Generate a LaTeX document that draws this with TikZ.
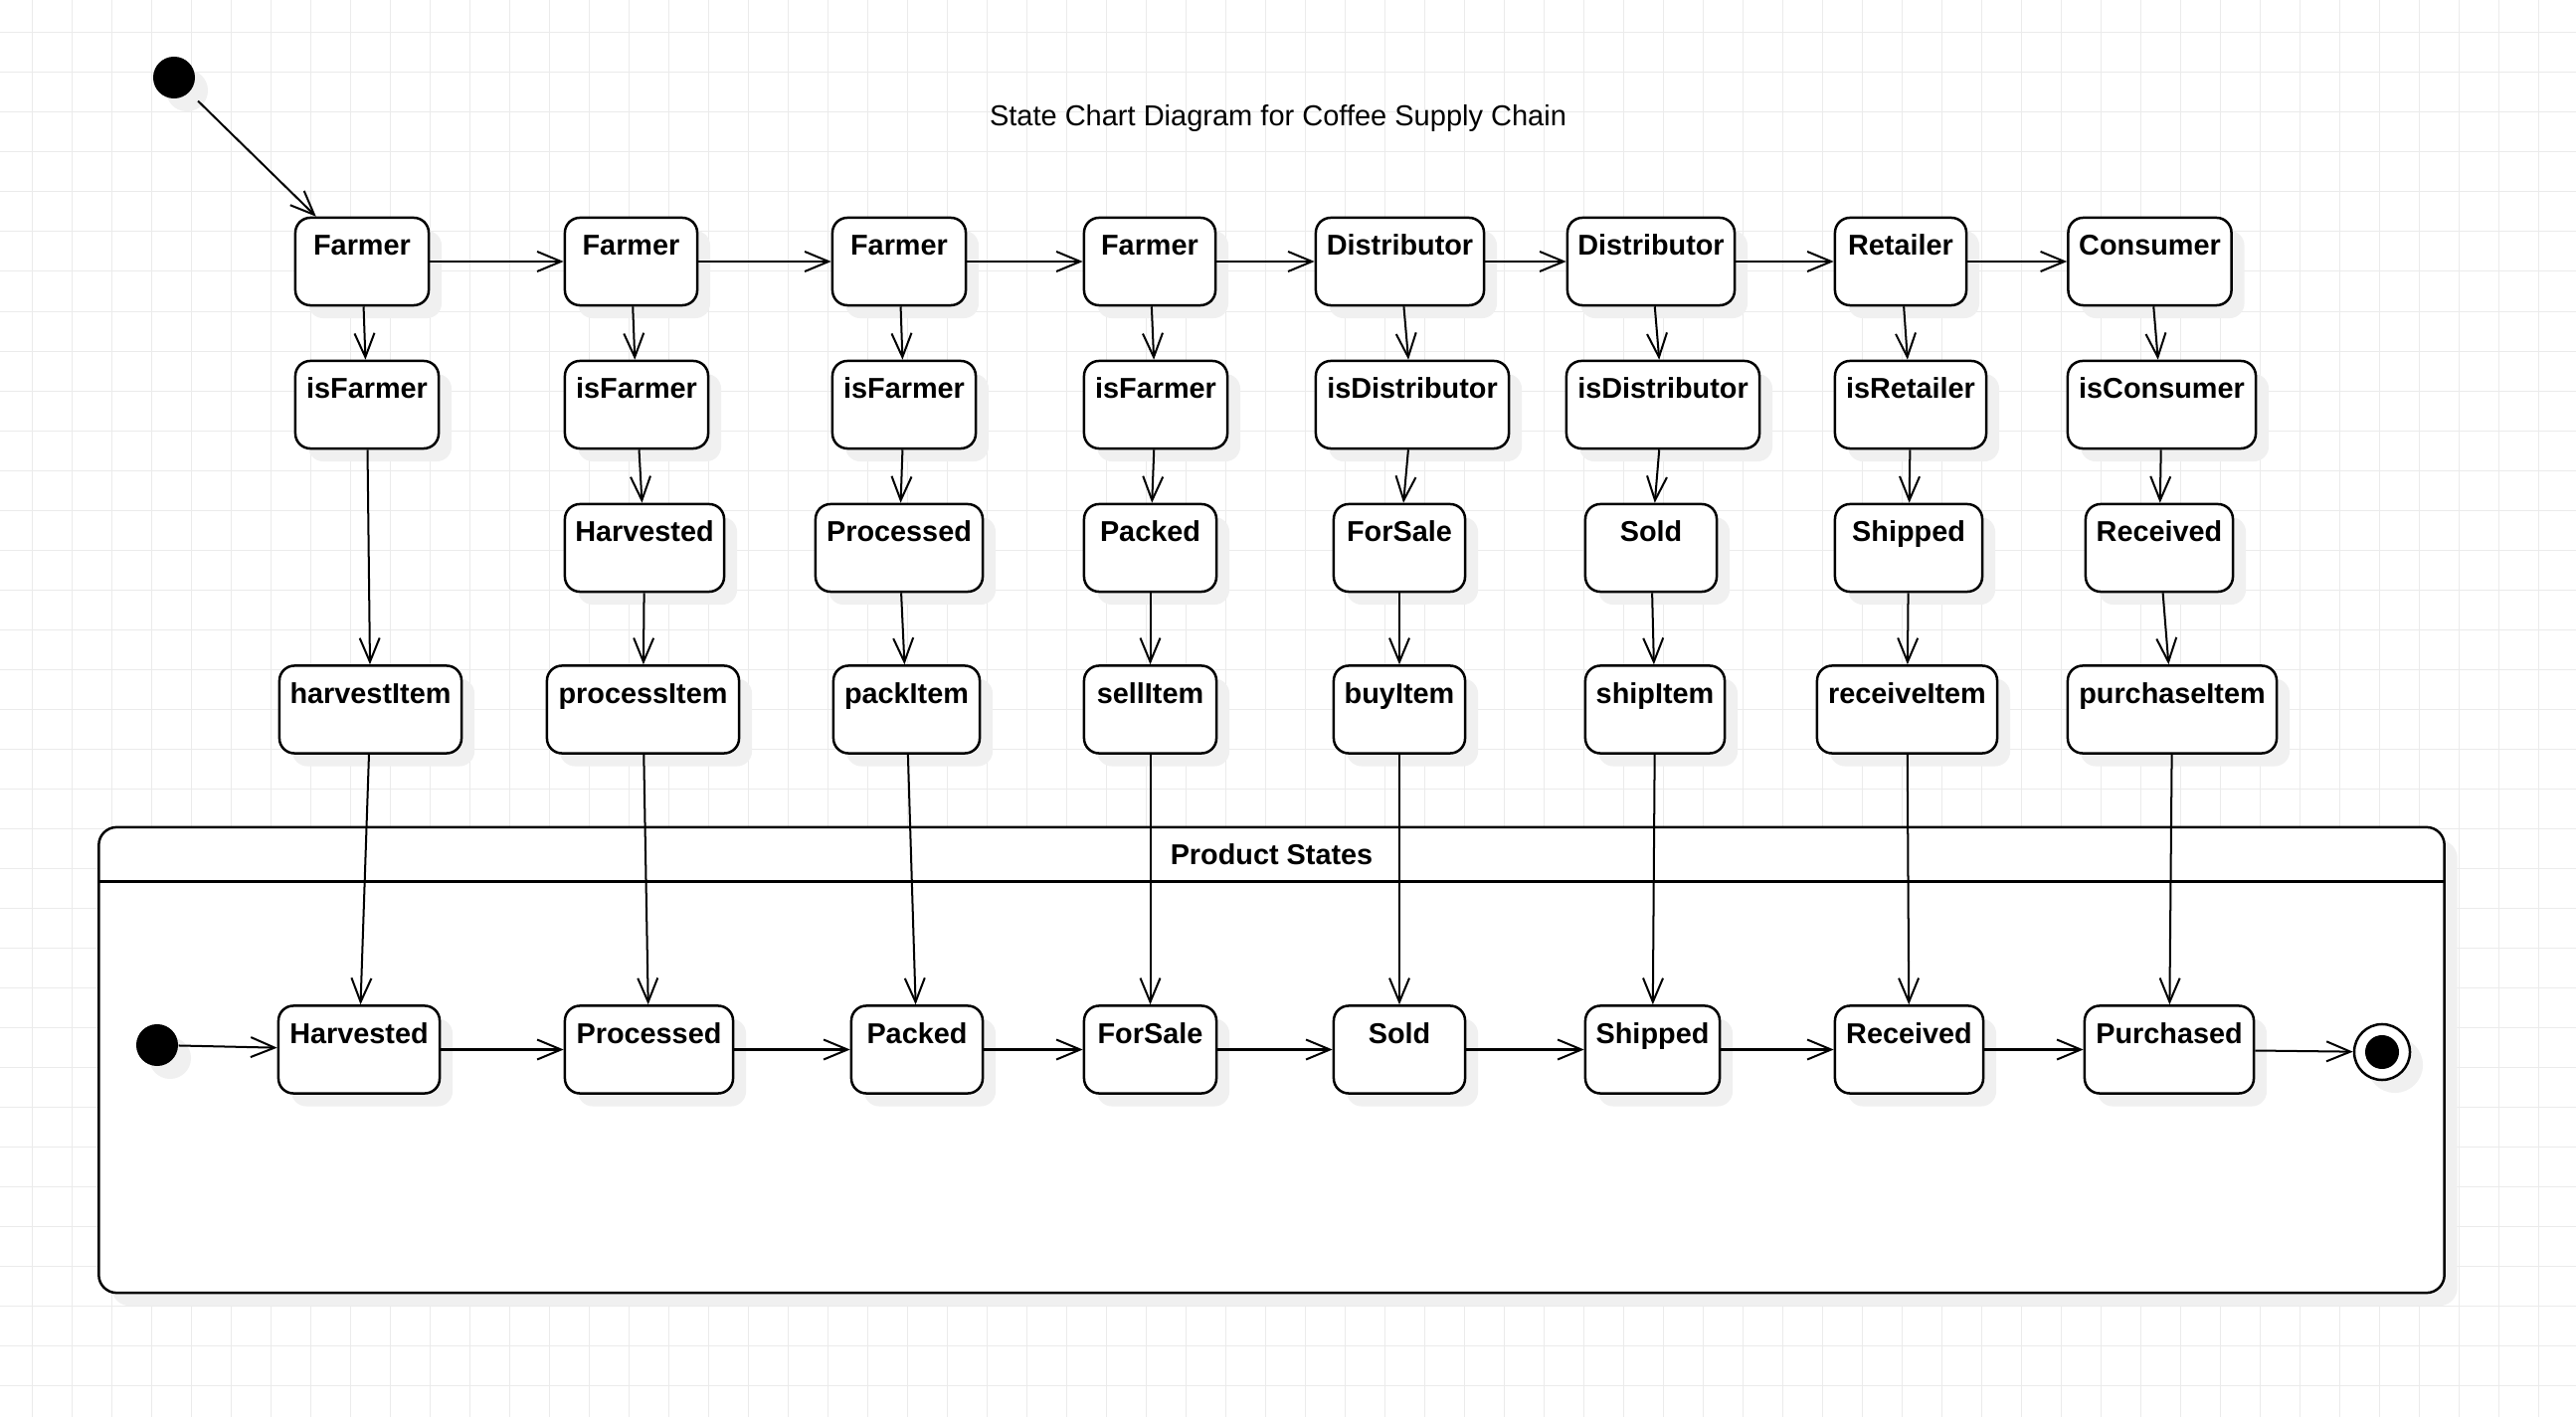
\documentclass[tikz,border=0pt]{standalone}
\usepackage{fontspec}
\setmainfont{Liberation Sans}
\usetikzlibrary{arrows.meta,shadows,calc}
\begin{document}
\begin{tikzpicture}[x=0.01cm,y=-0.01cm,
  gridline/.style={draw=black!8, line width=0.28pt},
  shd/.style={drop shadow={shadow xshift=0.13cm,shadow yshift=-0.13cm,fill=black!6,opacity=1}},
  st/.style={draw, line width=0.71pt, fill=white, rounded corners=0.15cm,
    inner xsep=0pt, inner ysep=0pt, text height=0.38cm, text depth=0.50cm,
    minimum height=0.88cm, font=\bfseries\fontsize{8.2}{9.8}\selectfont, shd},
  conn/.style={line width=0.57pt, -{Straight Barb[length=0.24cm,width=0.2cm]}},
  initst/.style={circle, fill=black, minimum size=0.42cm, inner sep=0pt, shd}]

% background and grid
\fill[white] (0,0) rectangle (2590,1425);
\useasboundingbox (0,0) rectangle (2590,1425);
\foreach \gx in {32,72,...,2590} \draw[gridline] (\gx,0) -- (\gx,1425);
\foreach \gy in {33,73,...,1425} \draw[gridline] (0,\gy) -- (2590,\gy);

% title
\node[font=\fontsize{8.25}{10}\selectfont, anchor=base, inner sep=0pt] (title) at (1285,127) {State Chart Diagram for Coffee Supply Chain};

% container
\node[draw, line width=0.71pt, fill=white, rounded corners=0.18cm, minimum width=23.57cm,
  minimum height=4.68cm, inner sep=0pt, shd] (ps) at (1278.5,1066) {};
\draw[line width=0.71pt] ($(ps.north west)+(0,56)$) -- ($(ps.north east)+(0,56)$);
\node[font=\bfseries\fontsize{8.2}{9.8}\selectfont, anchor=base, inner sep=0pt] (pst) at (1278.5,870) {Product States};

% initial state (top)
\node[initst] (i1) at (175,78) {};

% row 1
\node[st, minimum width=1.34cm] (r1c1) at (364,263) {Farmer};
\node[st, minimum width=1.33cm] (r1c2) at (634.5,263) {Farmer};
\node[st, minimum width=1.34cm] (r1c3) at (904,263) {Farmer};
\node[st, minimum width=1.32cm] (r1c4) at (1156,263) {Farmer};
\node[st, minimum width=1.69cm] (r1c5) at (1407.5,263) {Distributor};
\node[st, minimum width=1.68cm] (r1c6) at (1660,263) {Distributor};
\node[st, minimum width=1.32cm] (r1c7) at (1911,263) {Retailer};
\node[st, minimum width=1.64cm] (r1c8) at (2161.5,263) {Consumer};

% row 2
\node[st, minimum width=1.44cm] (r2c1) at (369,407) {isFarmer};
\node[st, minimum width=1.44cm] (r2c2) at (640,407) {isFarmer};
\node[st, minimum width=1.44cm] (r2c3) at (909,407) {isFarmer};
\node[st, minimum width=1.44cm] (r2c4) at (1162,407) {isFarmer};
\node[st, minimum width=1.94cm] (r2c5) at (1420,407) {isDistributor};
\node[st, minimum width=1.94cm] (r2c6) at (1672,407) {isDistributor};
\node[st, minimum width=1.52cm] (r2c7) at (1921,407) {isRetailer};
\node[st, minimum width=1.89cm] (r2c8) at (2173.5,407) {isConsumer};

% row 3
\node[st, minimum width=1.60cm] (r3c2) at (648,551) {Harvested};
\node[st, minimum width=1.68cm] (r3c3) at (904,551) {Processed};
\node[st, minimum width=1.33cm] (r3c4) at (1156.5,551) {Packed};
\node[st, minimum width=1.32cm] (r3c5) at (1407,551) {ForSale};
\node[st, minimum width=1.32cm] (r3c6) at (1660,551) {Sold};
\node[st, minimum width=1.48cm] (r3c7) at (1919,551) {Shipped};
\node[st, minimum width=1.48cm] (r3c8) at (2171,551) {Received};

% row 4
\node[st, minimum width=1.83cm] (r4c1) at (372.5,713.5) {harvestItem};
\node[st, minimum width=1.93cm] (r4c2) at (646.5,713.5) {processItem};
\node[st, minimum width=1.47cm] (r4c3) at (911.5,713.5) {packItem};
\node[st, minimum width=1.33cm] (r4c4) at (1156.5,713.5) {sellItem};
\node[st, minimum width=1.32cm] (r4c5) at (1407,713.5) {buyItem};
\node[st, minimum width=1.40cm] (r4c6) at (1664,713.5) {shipItem};
\node[st, minimum width=1.81cm] (r4c7) at (1917.5,713.5) {receiveItem};
\node[st, minimum width=2.10cm] (r4c8) at (2184,713.5) {purchaseItem};

% product states row
\node[initst] (i2) at (158,1051) {};
\node[st, minimum width=1.62cm] (b1) at (361,1055.5) {Harvested};
\node[st, minimum width=1.69cm] (b2) at (652.5,1055.5) {Processed};
\node[st, minimum width=1.32cm] (b3) at (922,1055.5) {Packed};
\node[st, minimum width=1.33cm] (b4) at (1156.5,1055.5) {ForSale};
\node[st, minimum width=1.32cm] (b5) at (1407,1055.5) {Sold};
\node[st, minimum width=1.35cm] (b6) at (1661.5,1055.5) {Shipped};
\node[st, minimum width=1.49cm] (b7) at (1919.5,1055.5) {Received};
\node[st, minimum width=1.70cm] (b8) at (2181,1055.5) {Purchased};
\node[circle, draw, line width=0.71pt, fill=white, minimum size=0.56cm, inner sep=0pt, shd] (fin) at (2395,1058) {};
\fill (fin.center) circle[radius=0.17cm];

% connectors
\draw[conn, shorten <=0.12cm] (i1) -- (r1c1);
\foreach \a/\b in {r1c1/r1c2,r1c2/r1c3,r1c3/r1c4,r1c4/r1c5,r1c5/r1c6,r1c6/r1c7,r1c7/r1c8}
  \draw[conn] (\a) -- (\b);
\foreach \k in {1,...,8}
  \draw[conn] (r1c\k) -- (r2c\k);
\draw[conn] (r2c1) -- (r4c1);
\foreach \k in {2,...,8} {
  \draw[conn] (r2c\k) -- (r3c\k);
  \draw[conn] (r3c\k) -- (r4c\k);
}
\foreach \k in {1,...,8}
  \draw[conn] (r4c\k) -- (b\k);
\foreach \a/\b in {i2/b1,b1/b2,b2/b3,b3/b4,b4/b5,b5/b6,b6/b7,b7/b8,b8/fin}
  \draw[conn] (\a) -- (\b);
\end{tikzpicture}
\end{document}
